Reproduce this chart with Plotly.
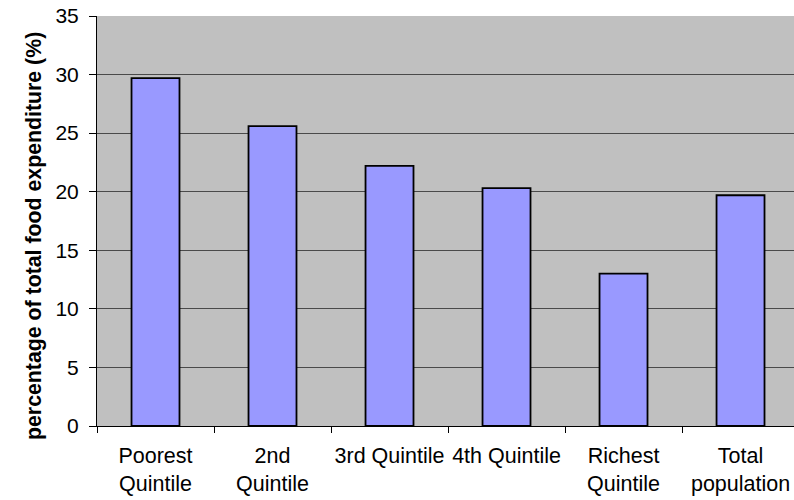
import plotly.graph_objects as go

# Share of total food expenditure by income group
categories = ["Poorest<br>Quintile", "2nd<br>Quintile", "3rd Quintile",
              "4th Quintile", "Richest<br>Quintile", "Total<br>population"]
values = [29.7, 25.6, 22.2, 20.3, 13.0, 19.7]
y_ticks = [0, 5, 10, 15, 20, 25, 30, 35]
y_title = "percentage of total food expenditure (%)"

fig = go.Figure(
    go.Bar(
        x=list(range(len(categories))),
        y=values,
        width=0.41,
        marker=dict(color="#9999FF", line=dict(color="#000000", width=1.8)),
    )
)

fig.update_layout(
    width=794,
    height=500,
    margin=dict(l=97, r=0, t=16, b=74),
    paper_bgcolor="#FFFFFF",
    plot_bgcolor="#C0C0C0",
    font=dict(family="Liberation Sans, Arial, sans-serif", size=21, color="#000000"),
    showlegend=False,
)

fig.update_xaxes(
    tickmode="array",
    tickvals=list(range(len(categories))),
    ticktext=categories,
    range=[-0.5, 5.457],
    showline=True,
    linecolor="#000000",
    linewidth=1,
    showgrid=False,
    ticks="",
    zeroline=False,
    tickfont=dict(size=21.5),
    ticklabelstandoff=10,
    # category separator ticks between groups
    minor=dict(
        tickmode="array",
        tickvals=[i - 0.5 for i in range(len(categories) + 1)],
        ticks="outside",
        ticklen=6,
        tickcolor="#000000",
        tickwidth=1,
        showgrid=False,
    ),
)

fig.update_yaxes(
    range=[0, 35],
    tickmode="array",
    tickvals=y_ticks,
    showline=True,
    linecolor="#000000",
    linewidth=1,
    ticks="outside",
    ticklen=7,
    tickcolor="#000000",
    showgrid=True,
    gridcolor="#4a4a4a",
    gridwidth=1,
    zeroline=False,
    tickfont=dict(size=21),
    ticklabelstandoff=6,
)

# vertical axis title, placed slightly below the plot's vertical centre
fig.add_annotation(
    text=f"<b>{y_title}</b>",
    textangle=-90,
    xref="paper", yref="paper",
    x=-97 / 697 + 34 / 697, y=(426 - 236) / 410,
    xanchor="center", yanchor="middle",
    showarrow=False,
    font=dict(size=21.3),
)

fig.write_html("out.html")
